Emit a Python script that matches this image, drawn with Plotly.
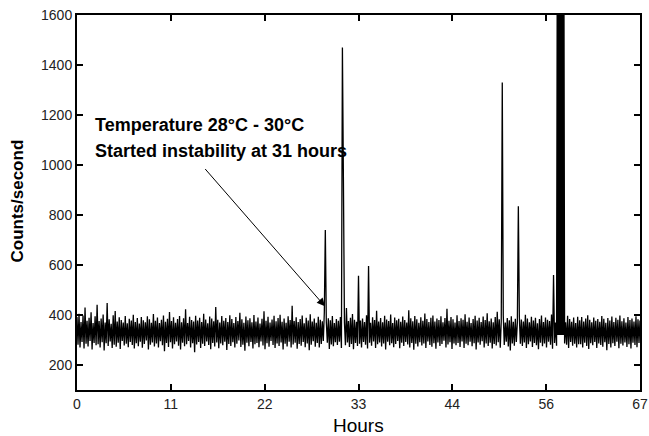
import numpy as np
import plotly.graph_objects as go

# ---------------- data ----------------
hours_max = 67
baseline_counts = [
    392, 281, 405, 270, 372, 292, 398, 266, 430, 285, 377, 274, 389, 296, 411, 262, 368, 288, 395, 279,
    441, 283, 376, 270, 386, 291, 402, 258, 370, 287, 448, 276, 383, 294, 365, 268, 399, 281, 416, 273,
    374, 289, 391, 264, 380, 296, 370, 278, 396, 285, 367, 271, 385, 292, 378, 280, 401, 266, 372, 287,
    388, 275, 366, 293, 392, 269, 379, 284, 371, 298, 395, 262, 383, 281, 369, 290, 404, 274, 377, 286,
    390, 270, 368, 295, 381, 279, 398, 255, 373, 288, 385, 272, 412, 291, 376, 266, 391, 283, 369, 294,
    384, 277, 396, 262, 371, 289, 387, 275, 423, 283, 368, 296, 393, 270, 380, 287, 374, 251, 397, 282,
    378, 292, 389, 268, 372, 285, 405, 276, 382, 294, 367, 280, 394, 263, 386, 288, 375, 274, 432, 290,
    381, 267, 370, 286, 396, 279, 377, 293, 388, 260, 372, 284, 399, 276, 384, 291, 368, 270, 392, 285,
    376, 298, 409, 272, 383, 281, 369, 257, 394, 289, 379, 275, 387, 292, 371, 266, 400, 283, 374, 288,
    390, 271, 366, 294, 385, 278, 415, 263, 377, 287, 393, 273, 370, 296, 382, 280, 397, 268, 375, 286,
    388, 276, 401, 290, 373, 262, 386, 285, 369, 274, 395, 293, 380, 270, 437, 282, 376, 289, 391, 265,
    372, 284, 384, 277, 398, 292, 367, 271, 389, 286, 378, 259, 403, 281, 374, 295, 386, 273, 369, 288,
    393, 270, 381, 284, 375, 296, 410, 276, 371, 289, 387, 264, 379, 282, 396, 275, 368, 291, 384, 280,
    377, 293, 392, 268, 383, 286, 370, 279, 428, 290, 376, 272, 389, 284, 404, 263, 381, 288, 373, 276,
    395, 285, 378, 270, 386, 292, 372, 281, 399, 266, 384, 289, 369, 277, 391, 294, 380, 268, 417, 283,
    374, 290, 388, 274, 371, 286, 397, 262, 382, 293, 376, 279, 402, 287, 368, 271, 390, 284, 379, 296,
    385, 267, 373, 289, 394, 276, 380, 292, 370, 282, 419, 270, 387, 288, 375, 261, 396, 285, 383, 274,
    369, 291, 391, 278, 377, 286, 406, 268, 384, 294, 372, 280, 389, 273, 398, 287, 374, 265, 386, 290,
    380, 276, 395, 284, 371, 297, 388, 270, 425, 282, 377, 291, 392, 264, 383, 286, 370, 279, 399, 288,
    376, 272, 387, 294, 381, 268, 403, 285, 373, 279, 390, 293, 368, 275, 384, 287, 397, 262, 378, 290,
    389, 281, 372, 295, 394, 270, 380, 286, 407, 276, 375, 289, 386, 266, 371, 284, 392, 278, 413, 291,
    383, 269, 376, 287, 398, 280, 370, 293, 388, 274, 379, 258, 395, 286, 373, 277, 385, 292, 369, 271,
    391, 285, 382, 276, 374, 290, 401, 268, 386, 283, 371, 294, 393, 272, 378, 288, 389, 279, 367, 263,
    384, 289, 398, 275, 372, 286, 390, 270, 381, 293, 376, 281, 402, 265, 387, 288, 370, 277, 395, 284,
    376, 290, 388, 273, 379, 286, 371, 281, 397, 268, 384, 292, 373, 277, 390, 285, 368, 270, 393, 283,
    379, 283, 392, 270, 374, 289, 386, 276, 399, 264, 381, 287, 371, 279, 390, 292, 377, 268, 384, 286,
    373, 280, 396, 273, 385, 291, 369, 259, 388, 284, 378, 270, 394, 287, 372, 276, 389, 293, 381, 267,
    398, 285, 375, 278, 387, 290, 370, 272, 392, 283, 380, 266, 386, 289, 374, 280, 395, 271, 383, 288,
    378,
]
spike_hours = [29.5, 31.55, 31.67, 33.5, 34.7, 50.6, 52.5, 56.7]
spike_counts = [740, 1470, 940, 557, 596, 1330, 835, 560]

# off-scale burst (counts exceed the 1600 axis limit)
burst_start_hour = 57.1
burst_end_hour = 58.0
burst_floor_count = 320
burst_peak_count = 2500

x_tick_labels = ["0", "11", "22", "33", "44", "56", "67"]
y_tick_values = [200, 400, 600, 800, 1000, 1200, 1400, 1600]

# ---------------- build series ----------------
n = len(baseline_counts)
hours = np.linspace(0, hours_max, n)
counts = list(baseline_counts)
for h, c in zip(spike_hours, spike_counts):
    counts[int(round(h / hours_max * (n - 1)))] = c
for i, h in enumerate(hours):
    if burst_start_hour <= h <= burst_end_hour:
        counts[i] = burst_peak_count

FONT = "Liberation Sans, Arial, sans-serif"

fig = go.Figure()
fig.add_trace(go.Scatter(
    x=hours, y=counts, mode="lines",
    line=dict(color="black", width=1.3, simplify=False),
    showlegend=False, hoverinfo="skip",
))
fig.add_trace(go.Bar(
    x=[(burst_start_hour + burst_end_hour) / 2],
    y=[burst_peak_count - burst_floor_count],
    base=[burst_floor_count],
    width=[burst_end_hour - burst_start_hour],
    marker=dict(color="black", line=dict(width=0)),
    showlegend=False, hoverinfo="skip",
))

axis_common = dict(
    showline=True, linecolor="black", linewidth=2, mirror="ticks",
    ticks="inside", ticklen=6, tickwidth=2, tickcolor="black",
    showgrid=False, zeroline=False, automargin=False,
    tickfont=dict(family=FONT, size=14, color="#222"),
)

fig.update_xaxes(
    range=[0, hours_max],
    tickmode="array",
    tickvals=[hours_max * i / 6 for i in range(7)],
    ticktext=x_tick_labels,
    **axis_common,
)
fig.update_yaxes(
    range=[100, 1600],
    tickmode="array",
    tickvals=y_tick_values,
    ticktext=[str(v) for v in y_tick_values],
    **axis_common,
)

# axis titles
fig.add_annotation(x=0.5, y=-0.094, xref="paper", yref="paper", text="Hours",
                   showarrow=False, xanchor="center", yanchor="middle",
                   font=dict(family=FONT, size=19, color="black"))
fig.add_annotation(x=-0.105, y=0.505, xref="paper", yref="paper", text="<b>Counts/second</b>",
                   textangle=-90, showarrow=False, xanchor="center", yanchor="middle",
                   font=dict(family=FONT, size=17, color="black"))

fig.add_annotation(x=1.9, y=1161, xref="x", yref="y", text="<b>Temperature 28°C - 30°C</b>",
                   showarrow=False, xanchor="left", yanchor="middle",
                   font=dict(family=FONT, size=18, color="black"))
fig.add_annotation(x=1.9, y=1057, xref="x", yref="y", text="<b>Started instability at 31 hours</b>",
                   showarrow=False, xanchor="left", yanchor="middle",
                   font=dict(family=FONT, size=18, color="black"))
fig.add_annotation(x=29.5, y=435, xref="x", yref="y", ax=15.1, ay=990, axref="x", ayref="y",
                   text="", showarrow=True, arrowhead=2, arrowsize=1.6, arrowwidth=1,
                   arrowcolor="black")

fig.update_layout(
    width=649, height=436,
    margin=dict(l=77, r=9, t=15, b=46),
    paper_bgcolor="white", plot_bgcolor="white",
    bargap=0,
)

fig.write_html(
    "out.html",
    config={"displayModeBar": False},
    post_script="document.body.style.margin='0';document.body.style.overflow='hidden';",
)
